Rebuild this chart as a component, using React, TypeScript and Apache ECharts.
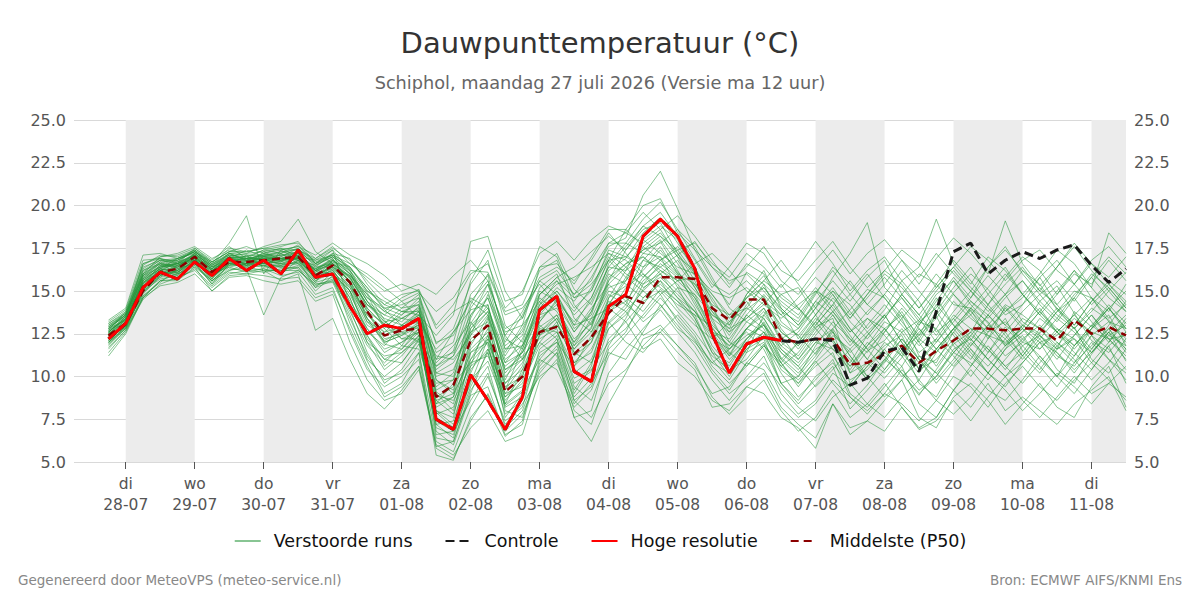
import React, { useEffect, useRef } from "react";
import * as echarts from "echarts";

// Forecast steps: hours after 27-07 00:00, every 6 hours (27-07 18:00 .. 11-08 12:00)
const stepHours: number[] = Array.from({ length: 60 }, (_, i) => 18 + 6 * i);

// Day ticks (midnight of each day, hours after 27-07 00:00 = 24 * (i + 1))
const tickDays = ["di", "wo", "do", "vr", "za", "zo", "ma", "di", "wo", "do", "vr", "za", "zo", "ma", "di"];
const tickDates = ["28-07", "29-07", "30-07", "31-07", "01-08", "02-08", "03-08", "04-08", "05-08", "06-08", "07-08", "08-08", "09-08", "10-08", "11-08"];

// High resolution run (runs until 06-08 12:00)
const hoogeResolutie = [
  12.2, 13.1, 15.2, 16.1, 15.7, 16.7, 15.9, 16.9, 16.2, 16.8,
  16.0, 17.4, 15.8, 16.0, 14.1, 12.5, 13.0, 12.8, 13.4, 7.5,
  6.9, 10.1, 8.6, 6.9, 8.8, 13.9, 14.7, 10.3, 9.7, 14.1,
  14.8, 18.2, 19.2, 18.2, 16.3, 12.5, 10.2, 11.9, 12.3, 12.1,
];

// Control run
const controle = [
  12.2, 13.1, 15.2, 16.1, 15.7, 16.7, 15.9, 16.9, 16.2, 16.8,
  16.0, 17.4, 15.8, 16.0, 14.1, 12.5, 13.0, 12.8, 13.4, 7.5,
  6.9, 10.1, 8.6, 6.9, 8.8, 13.9, 14.7, 10.3, 9.7, 14.1,
  14.8, 18.2, 19.2, 18.2, 16.3, 12.5, 10.2, 11.9, 12.3, 12.1,
  12.0, 12.2, 12.1, 9.5, 9.9, 11.5, 11.7, 10.3, 13.8, 17.3,
  17.8, 16.0, 16.8, 17.3, 16.9, 17.4, 17.7, 16.5, 15.5, 16.3,
];

// Ensemble median
const middelste = [
  12.4, 13.1, 15.0, 16.1, 16.3, 17.0, 16.1, 16.7, 16.7, 16.8,
  16.9, 17.0, 15.9, 16.5, 15.5, 13.8, 12.4, 12.7, 12.8, 8.8,
  9.5, 12.1, 13.0, 9.1, 10.0, 12.6, 12.9, 11.3, 12.3, 13.7,
  14.7, 14.3, 15.8, 15.8, 15.7, 14.0, 13.3, 14.5, 14.5, 12.2,
  12.0, 12.2, 12.2, 10.7, 10.8, 11.3, 11.8, 10.8, 11.5, 12.1,
  12.8, 12.8, 12.7, 12.8, 12.8, 12.1, 13.3, 12.5, 12.9, 12.4,
];

// Perturbed ensemble members (50)
const verstoordeRuns: number[][] = [
  [12.8, 13.6, 16.2, 16.6, 16.0, 17.2, 16.4, 17.0, 16.5, 17.3, 16.8, 17.1, 16.2, 16.9, 15.4, 13.2, 12.1, 12.6, 13.0, 9.1, 8.4, 11.8, 13.5, 9.6, 10.4, 12.9, 13.6, 11.2, 12.0, 14.6, 15.3, 16.2, 17.4, 16.1, 15.0, 13.8, 12.4, 13.9, 14.7, 12.8, 11.6, 12.9, 13.4, 10.2, 11.5, 12.1, 13.4, 11.2, 10.8, 12.6, 13.9, 12.2, 14.1, 13.0, 12.4, 11.6, 13.8, 12.9, 14.2, 13.1],
  [12.1, 13.0, 14.8, 15.9, 16.4, 16.8, 15.6, 16.5, 17.1, 16.4, 17.2, 16.6, 15.5, 16.8, 16.2, 14.9, 13.3, 12.2, 12.6, 7.2, 6.4, 9.8, 10.9, 8.3, 9.1, 13.2, 14.5, 12.6, 13.8, 16.2, 16.9, 18.4, 19.3, 17.8, 16.4, 14.1, 12.0, 11.4, 13.6, 14.8, 15.2, 13.6, 12.1, 11.0, 9.8, 10.9, 12.6, 13.3, 14.8, 15.6, 14.2, 13.1, 11.9, 12.8, 14.4, 15.3, 13.7, 12.1, 11.4, 12.6],
  [13.2, 13.9, 16.8, 16.9, 16.6, 17.5, 16.8, 17.6, 16.9, 17.4, 17.6, 17.9, 16.6, 17.4, 14.2, 12.4, 11.0, 10.8, 12.1, 10.6, 11.5, 14.8, 15.9, 12.2, 11.6, 14.0, 15.2, 14.4, 15.8, 17.6, 18.1, 20.6, 22.0, 19.8, 17.4, 15.6, 14.2, 16.1, 15.4, 13.2, 12.4, 11.3, 12.8, 13.9, 15.1, 14.6, 13.2, 12.0, 13.6, 14.9, 16.0, 15.1, 13.8, 14.6, 15.8, 14.2, 13.0, 14.4, 15.6, 14.8],
  [11.6, 12.7, 14.5, 15.4, 15.8, 16.2, 15.2, 16.0, 16.2, 16.1, 16.3, 16.4, 15.0, 15.9, 13.1, 10.9, 9.0, 9.6, 11.4, 5.4, 5.1, 7.6, 8.9, 6.5, 7.4, 11.0, 12.2, 9.4, 8.6, 11.2, 12.4, 13.6, 14.8, 13.2, 12.1, 10.4, 9.2, 10.8, 11.9, 9.6, 8.4, 9.5, 10.6, 8.1, 9.2, 10.4, 11.8, 9.6, 8.8, 10.5, 11.6, 10.2, 9.4, 10.8, 12.0, 10.4, 9.6, 11.3, 12.6, 10.9],
  [12.5, 13.3, 15.6, 16.3, 16.9, 17.4, 16.2, 16.9, 17.4, 17.0, 17.1, 17.3, 16.0, 16.4, 15.9, 14.4, 13.6, 13.2, 14.1, 11.0, 12.6, 13.9, 14.2, 10.4, 11.2, 12.2, 12.8, 9.6, 10.3, 13.1, 14.0, 15.6, 16.4, 17.1, 17.9, 16.4, 15.2, 16.6, 16.0, 14.6, 13.9, 15.2, 14.0, 12.6, 13.4, 12.8, 11.6, 12.4, 14.2, 13.0, 12.1, 13.6, 14.8, 16.2, 15.4, 13.9, 12.8, 14.0, 13.3, 12.2],
  [12.9, 13.5, 15.9, 16.7, 16.2, 17.1, 15.8, 16.6, 16.4, 16.9, 16.5, 17.0, 15.6, 16.3, 14.6, 12.0, 10.4, 11.2, 12.4, 6.8, 6.0, 8.9, 9.4, 6.6, 7.2, 10.8, 11.6, 8.8, 9.9, 12.8, 13.6, 15.1, 16.2, 15.4, 14.0, 11.8, 10.6, 12.2, 13.1, 11.1, 10.2, 11.4, 12.7, 9.6, 10.8, 9.9, 11.1, 12.6, 13.5, 11.8, 10.6, 12.2, 13.4, 11.5, 10.4, 11.8, 12.9, 11.0, 10.2, 11.6],
  [12.3, 13.2, 15.1, 15.8, 16.5, 16.9, 16.3, 17.2, 16.8, 16.6, 16.7, 17.4, 16.8, 17.1, 16.6, 16.0, 15.2, 14.4, 14.9, 13.8, 14.6, 16.2, 16.1, 13.8, 14.2, 16.4, 17.2, 15.1, 14.2, 16.4, 17.6, 18.8, 19.6, 18.2, 16.8, 15.2, 16.4, 17.8, 17.2, 15.6, 14.8, 16.2, 17.4, 16.0, 17.2, 18.0, 16.8, 15.4, 16.9, 18.1, 17.2, 16.0, 19.1, 16.6, 15.3, 16.4, 17.6, 16.2, 15.0, 16.1],
  [11.9, 12.9, 14.9, 16.0, 16.1, 16.6, 15.4, 16.2, 16.6, 16.5, 16.0, 16.8, 15.2, 16.1, 15.2, 13.6, 12.6, 12.9, 13.2, 8.0, 7.6, 12.2, 13.0, 9.2, 10.6, 13.6, 14.0, 12.2, 13.1, 15.0, 14.6, 13.8, 15.1, 14.2, 13.6, 12.9, 11.3, 12.8, 12.3, 10.6, 9.8, 10.9, 9.6, 8.4, 9.5, 11.0, 10.2, 8.9, 10.4, 11.9, 12.6, 11.4, 12.9, 11.8, 10.6, 9.4, 10.8, 12.4, 11.6, 10.4],
  [12.6, 13.4, 15.4, 16.5, 16.8, 17.3, 16.6, 17.8, 19.4, 16.0, 17.4, 16.8, 16.5, 17.0, 16.1, 14.0, 12.9, 13.6, 14.4, 9.8, 9.2, 13.1, 14.6, 11.6, 12.4, 15.2, 16.0, 13.4, 12.6, 14.2, 15.8, 17.2, 18.0, 16.6, 15.2, 13.4, 12.6, 14.2, 15.2, 13.9, 12.2, 13.6, 15.0, 14.2, 12.8, 13.9, 15.6, 14.4, 12.6, 13.4, 14.6, 15.9, 14.8, 13.2, 12.5, 13.8, 15.0, 14.6, 13.4, 14.2],
  [12.2, 13.0, 15.3, 16.2, 15.9, 16.9, 15.7, 16.8, 16.3, 13.6, 15.8, 16.2, 15.4, 15.6, 14.0, 11.4, 9.6, 10.4, 11.9, 7.9, 7.0, 10.2, 12.4, 8.6, 9.8, 12.0, 13.2, 10.8, 11.4, 13.9, 14.8, 16.8, 17.9, 16.2, 14.6, 12.6, 11.8, 13.2, 14.0, 12.0, 11.2, 12.6, 13.8, 12.4, 11.0, 12.6, 13.8, 12.2, 11.4, 12.8, 13.6, 12.4, 11.2, 12.0, 13.4, 12.6, 11.8, 13.0, 14.0, 12.8],
  [13.0, 13.7, 16.0, 17.0, 17.2, 17.6, 16.9, 17.4, 17.2, 17.6, 17.9, 19.2, 17.3, 16.6, 15.6, 13.8, 13.1, 14.0, 14.8, 11.9, 12.8, 15.4, 16.8, 13.0, 12.0, 14.8, 15.8, 16.4, 17.3, 18.2, 17.4, 18.6, 19.0, 17.2, 15.9, 14.6, 13.0, 14.8, 15.9, 14.2, 13.4, 14.9, 16.2, 14.8, 13.6, 14.8, 16.2, 15.0, 13.8, 15.2, 16.4, 14.8, 13.6, 14.2, 15.8, 16.8, 15.4, 14.2, 15.2, 14.0],
  [11.4, 12.6, 14.6, 15.6, 15.6, 16.4, 15.0, 15.9, 16.0, 16.2, 15.6, 16.0, 12.7, 13.4, 11.0, 9.0, 8.1, 9.2, 10.6, 6.2, 5.6, 8.2, 10.0, 7.4, 8.2, 11.6, 12.4, 9.9, 10.4, 12.0, 12.8, 14.2, 15.6, 14.6, 13.4, 11.6, 10.2, 11.6, 12.6, 10.4, 9.6, 10.6, 11.4, 9.0, 8.2, 9.4, 10.6, 8.4, 7.6, 9.2, 10.4, 9.2, 8.6, 9.8, 11.2, 10.0, 9.0, 10.4, 11.8, 9.6],
  [12.7, 13.8, 16.4, 16.8, 16.6, 17.1, 16.5, 17.1, 17.0, 16.8, 17.0, 17.5, 16.4, 17.2, 16.9, 15.4, 14.2, 13.8, 13.6, 12.4, 13.6, 17.9, 18.2, 15.0, 13.4, 15.6, 14.8, 12.8, 13.6, 16.6, 17.8, 19.2, 20.2, 18.6, 16.9, 15.4, 14.8, 15.6, 14.6, 12.6, 11.8, 13.2, 14.6, 13.4, 14.8, 16.2, 15.4, 14.0, 15.4, 16.8, 15.6, 14.2, 15.8, 17.0, 16.2, 14.8, 16.0, 15.4, 16.8, 15.6],
  [12.4, 13.1, 14.7, 15.5, 16.3, 16.6, 16.0, 16.4, 16.6, 16.7, 16.6, 16.6, 15.8, 16.2, 14.8, 12.8, 11.6, 12.0, 12.8, 8.6, 7.8, 11.0, 12.8, 8.0, 7.6, 10.4, 11.4, 8.0, 7.2, 10.2, 11.6, 12.8, 13.9, 12.6, 11.4, 9.8, 8.6, 10.0, 11.2, 9.0, 7.8, 8.6, 10.2, 9.4, 10.6, 12.0, 11.2, 9.8, 11.4, 12.6, 11.4, 10.2, 11.6, 12.4, 11.0, 10.0, 11.8, 13.0, 12.2, 11.0],
  [12.0, 12.8, 15.0, 16.4, 16.7, 17.0, 16.1, 17.0, 16.9, 17.1, 17.3, 17.2, 16.1, 16.7, 16.4, 15.2, 13.9, 13.0, 12.4, 9.4, 10.2, 13.4, 15.4, 12.8, 13.4, 16.2, 16.8, 14.2, 13.0, 15.4, 16.4, 17.4, 17.8, 18.6, 17.6, 15.8, 14.0, 13.2, 12.6, 11.4, 10.6, 12.0, 11.6, 10.4, 11.8, 13.2, 12.6, 11.0, 9.8, 11.0, 12.4, 13.6, 12.4, 11.2, 12.6, 13.8, 14.6, 13.2, 12.0, 13.4],
  [13.3, 14.0, 17.1, 17.2, 16.9, 17.3, 16.7, 17.3, 17.6, 17.2, 17.4, 17.6, 17.1, 17.8, 17.1, 16.6, 15.9, 15.0, 15.4, 14.8, 15.9, 16.8, 15.6, 12.4, 11.0, 12.6, 13.4, 11.6, 12.9, 15.8, 16.6, 17.0, 16.2, 15.6, 15.8, 14.8, 13.4, 14.6, 15.6, 16.8, 15.4, 14.0, 15.8, 17.2, 19.0, 15.2, 14.2, 13.0, 14.4, 15.8, 14.6, 16.4, 17.6, 16.0, 14.8, 15.6, 14.4, 15.8, 17.0, 16.0],
  [11.8, 12.8, 14.6, 15.6, 16.0, 16.4, 15.6, 16.4, 16.1, 16.3, 15.9, 16.1, 14.8, 15.2, 12.6, 10.4, 9.4, 10.0, 11.0, 5.9, 6.2, 9.0, 11.6, 9.0, 10.2, 12.4, 13.0, 11.8, 13.4, 14.0, 13.2, 11.6, 12.2, 10.8, 10.0, 8.6, 8.0, 9.4, 10.2, 8.2, 7.2, 6.4, 8.4, 7.0, 7.4, 8.6, 9.8, 7.6, 7.0, 8.8, 9.6, 8.6, 7.2, 8.4, 9.6, 8.2, 7.6, 9.4, 10.6, 8.2],
  [12.6, 13.5, 15.8, 16.6, 16.5, 16.9, 16.2, 17.0, 16.5, 17.0, 16.9, 16.9, 16.2, 16.0, 15.0, 13.0, 12.4, 12.8, 13.6, 10.2, 10.8, 12.6, 13.2, 9.8, 11.8, 14.4, 15.4, 15.8, 16.4, 17.2, 16.4, 15.2, 15.8, 14.8, 13.8, 12.4, 11.2, 12.8, 13.6, 12.4, 11.0, 12.2, 11.2, 9.8, 10.4, 11.6, 12.8, 11.4, 12.2, 13.6, 12.8, 11.6, 10.4, 11.8, 12.4, 11.2, 10.6, 12.0, 11.0, 9.8],
  [12.3, 13.0, 15.2, 16.0, 15.8, 16.7, 15.4, 16.6, 16.8, 16.6, 16.4, 16.8, 15.8, 16.5, 15.6, 13.4, 11.9, 11.6, 12.6, 7.6, 7.0, 11.4, 12.0, 7.6, 9.0, 12.6, 13.6, 12.0, 13.2, 15.2, 15.6, 17.6, 18.4, 17.2, 15.6, 13.2, 11.6, 12.4, 13.0, 11.8, 12.6, 14.0, 13.0, 11.8, 13.0, 14.2, 13.0, 11.8, 12.8, 14.4, 13.4, 12.6, 14.0, 12.8, 11.6, 12.6, 13.6, 12.4, 13.2, 12.0],
  [13.1, 13.7, 16.5, 17.1, 17.0, 17.4, 16.6, 17.2, 16.8, 17.2, 17.5, 17.0, 16.8, 17.4, 16.2, 14.6, 13.8, 14.6, 15.1, 12.8, 13.8, 14.4, 13.6, 10.8, 11.4, 13.8, 14.6, 13.0, 14.6, 16.8, 18.6, 17.6, 16.8, 17.4, 17.8, 16.6, 15.8, 17.2, 16.4, 15.2, 16.4, 17.9, 16.6, 15.0, 16.2, 17.0, 15.6, 16.4, 19.2, 16.6, 15.4, 17.0, 16.2, 14.8, 16.0, 17.4, 16.6, 15.2, 18.4, 17.2],
  [12.5, 13.2, 15.5, 16.2, 16.4, 17.0, 16.0, 16.8, 16.9, 16.9, 16.8, 17.1, 16.4, 16.6, 15.8, 14.2, 13.4, 13.0, 13.8, 10.8, 11.8, 13.2, 11.8, 8.2, 8.8, 11.4, 12.0, 8.6, 9.4, 12.2, 13.2, 14.4, 15.0, 13.8, 12.6, 11.2, 10.4, 11.0, 12.4, 10.8, 9.4, 10.8, 11.8, 10.6, 12.0, 11.2, 10.0, 10.8, 12.2, 11.2, 10.0, 11.4, 12.6, 11.2, 10.2, 11.6, 12.2, 10.8, 12.0, 13.2],
  [12.0, 13.1, 15.7, 16.3, 16.1, 16.8, 15.9, 16.5, 16.6, 16.5, 16.5, 16.7, 16.0, 16.3, 15.3, 13.8, 12.0, 12.4, 12.9, 8.2, 8.8, 12.8, 14.2, 10.0, 11.0, 14.8, 15.8, 14.8, 15.6, 17.8, 18.4, 19.6, 18.6, 17.0, 16.2, 14.8, 13.6, 14.0, 13.4, 11.8, 11.0, 12.4, 13.6, 12.0, 13.4, 12.4, 11.2, 13.0, 14.6, 13.0, 11.8, 13.0, 14.2, 13.6, 12.8, 14.0, 12.8, 11.6, 13.0, 14.4],
  [12.8, 13.3, 15.9, 16.4, 16.6, 17.2, 16.4, 16.9, 16.6, 17.1, 17.1, 17.2, 15.8, 16.8, 16.0, 14.8, 12.8, 11.8, 11.6, 8.4, 9.6, 10.8, 11.2, 8.8, 10.0, 13.4, 14.2, 12.6, 14.0, 15.4, 14.4, 13.2, 14.0, 15.2, 14.8, 13.6, 12.8, 13.4, 14.2, 13.4, 14.2, 15.0, 14.4, 12.8, 11.6, 10.4, 11.6, 13.2, 12.8, 11.4, 12.6, 14.2, 13.0, 12.2, 13.0, 12.0, 11.2, 12.8, 14.0, 12.8],
  [12.2, 12.9, 15.0, 15.9, 16.2, 16.7, 15.8, 16.6, 16.4, 16.5, 16.2, 16.5, 15.5, 15.8, 13.8, 11.8, 10.8, 11.8, 13.2, 9.0, 8.0, 11.6, 12.6, 8.8, 9.6, 11.8, 12.6, 10.2, 11.0, 13.6, 15.2, 16.0, 15.2, 14.4, 13.2, 11.0, 9.8, 11.4, 12.0, 10.2, 8.8, 9.8, 11.0, 8.8, 8.0, 9.0, 10.4, 9.2, 10.0, 11.6, 12.2, 11.0, 10.0, 10.8, 12.0, 11.4, 10.2, 11.6, 12.8, 11.4],
  [12.9, 13.6, 16.1, 16.8, 16.8, 17.3, 16.5, 17.5, 17.3, 17.5, 17.7, 17.8, 16.9, 17.5, 16.8, 15.6, 14.6, 14.0, 14.2, 11.4, 12.0, 15.6, 17.4, 14.4, 14.8, 17.6, 17.0, 14.6, 15.0, 17.0, 16.0, 15.4, 16.0, 16.8, 15.4, 13.8, 12.8, 14.8, 16.2, 14.0, 13.0, 14.4, 15.6, 14.4, 15.8, 16.8, 14.8, 13.6, 15.0, 16.2, 15.0, 13.8, 14.8, 15.6, 14.2, 13.2, 14.6, 16.0, 15.2, 14.0],
  [11.2, 12.5, 14.6, 15.3, 15.5, 16.0, 15.0, 15.8, 15.9, 15.6, 15.4, 15.6, 14.4, 14.8, 12.0, 9.8, 8.6, 9.0, 10.4, 6.0, 5.4, 7.0, 8.0, 6.2, 6.6, 9.8, 11.0, 7.6, 6.2, 8.4, 10.2, 12.2, 12.6, 11.4, 10.4, 8.2, 8.4, 9.4, 9.0, 7.6, 7.0, 5.8, 8.4, 6.6, 7.4, 6.8, 8.2, 7.0, 7.6, 9.2, 8.2, 9.6, 8.0, 8.8, 8.0, 7.2, 8.4, 9.2, 10.0, 8.0],
  [12.6, 13.4, 15.4, 16.2, 16.7, 17.1, 16.3, 16.8, 16.8, 16.9, 16.9, 17.0, 16.3, 16.7, 15.7, 14.2, 13.6, 14.4, 13.4, 11.2, 11.0, 12.4, 14.8, 12.4, 13.8, 15.8, 16.4, 15.6, 16.8, 18.4, 17.2, 16.0, 14.8, 15.6, 16.6, 17.2, 16.2, 15.0, 14.2, 15.4, 14.0, 13.0, 14.2, 15.6, 14.2, 13.4, 14.8, 16.0, 15.4, 14.2, 14.0, 15.2, 16.4, 14.8, 13.6, 14.8, 16.2, 14.6, 13.8, 15.4],
  [12.4, 13.2, 15.2, 16.1, 16.2, 16.9, 16.1, 16.7, 16.7, 16.8, 16.6, 16.9, 15.9, 16.4, 15.6, 13.9, 12.2, 12.5, 13.0, 8.8, 9.4, 12.0, 13.0, 9.4, 10.0, 12.8, 12.6, 10.6, 11.6, 13.8, 14.4, 15.8, 16.8, 15.9, 14.4, 12.4, 11.0, 12.0, 13.2, 11.4, 10.4, 11.6, 12.2, 10.2, 10.8, 11.8, 12.4, 10.4, 11.0, 12.2, 12.8, 12.4, 12.0, 12.8, 12.0, 12.4, 13.4, 12.6, 12.2, 12.4],
  [12.7, 13.3, 15.7, 16.5, 16.4, 17.2, 16.2, 16.8, 16.6, 17.0, 16.7, 17.2, 16.2, 16.8, 16.0, 14.4, 13.0, 12.2, 12.2, 9.6, 9.8, 14.0, 15.4, 11.8, 12.6, 15.0, 14.4, 11.4, 10.8, 12.8, 13.8, 15.0, 14.2, 12.8, 12.0, 10.8, 11.6, 12.8, 13.8, 12.2, 12.8, 14.4, 13.6, 12.2, 11.4, 12.8, 13.6, 12.0, 10.6, 12.0, 11.0, 12.6, 13.2, 12.0, 11.6, 12.8, 12.2, 11.4, 12.6, 13.6],
  [12.1, 13.0, 15.1, 16.2, 16.6, 16.9, 15.9, 16.7, 16.9, 16.6, 16.8, 16.9, 15.7, 16.4, 15.2, 13.2, 12.6, 13.4, 13.9, 8.9, 8.6, 10.6, 13.4, 10.8, 12.2, 14.6, 13.8, 12.0, 13.8, 16.0, 15.4, 14.6, 15.6, 14.0, 13.0, 12.2, 13.2, 14.4, 13.0, 11.0, 12.0, 13.4, 12.6, 11.4, 12.4, 13.6, 12.0, 10.8, 12.0, 13.4, 12.2, 11.0, 12.2, 13.4, 12.8, 11.6, 12.4, 13.6, 12.4, 11.8],
  [12.5, 13.4, 16.6, 16.9, 16.3, 17.1, 16.0, 17.0, 16.8, 17.1, 16.9, 16.8, 15.9, 16.0, 14.4, 12.8, 11.4, 12.0, 12.6, 6.6, 6.8, 10.4, 11.6, 9.2, 11.6, 14.2, 15.0, 13.6, 14.6, 16.8, 17.0, 16.4, 17.6, 16.0, 14.2, 12.6, 12.2, 13.6, 12.8, 10.8, 9.6, 11.0, 12.4, 11.6, 12.6, 11.4, 10.6, 12.2, 13.8, 12.4, 11.2, 10.2, 11.6, 13.0, 14.0, 12.6, 11.4, 10.4, 11.8, 12.6],
  [12.0, 12.9, 15.5, 16.1, 16.0, 16.6, 15.6, 16.5, 16.5, 16.4, 16.4, 16.3, 15.2, 15.6, 13.6, 11.0, 10.0, 10.8, 12.2, 7.0, 6.6, 9.4, 11.4, 7.8, 8.6, 11.2, 12.0, 10.6, 12.4, 14.4, 13.8, 12.4, 13.0, 11.8, 10.6, 9.0, 9.4, 10.8, 10.4, 8.6, 7.6, 8.4, 9.8, 8.8, 7.8, 9.0, 8.4, 7.4, 8.6, 10.0, 9.4, 8.2, 9.6, 10.6, 9.4, 8.6, 9.8, 10.8, 9.8, 8.6],
  [13.1, 13.8, 16.6, 17.0, 17.1, 17.5, 16.7, 17.3, 17.2, 17.3, 17.5, 17.4, 16.9, 17.6, 16.6, 15.8, 15.0, 15.4, 15.0, 13.0, 14.2, 16.0, 16.6, 14.0, 15.0, 17.2, 17.9, 16.8, 18.0, 18.8, 18.4, 17.8, 18.6, 19.4, 18.2, 16.8, 15.4, 16.4, 17.6, 16.2, 15.6, 16.8, 17.9, 16.4, 15.2, 16.2, 17.4, 16.6, 15.2, 16.4, 17.6, 16.8, 15.6, 16.8, 17.4, 16.2, 15.4, 16.8, 17.6, 16.4],
  [12.3, 13.2, 15.6, 16.4, 16.6, 16.8, 16.2, 16.9, 17.0, 16.8, 16.8, 16.9, 16.2, 16.6, 15.0, 12.6, 11.8, 13.0, 13.6, 8.0, 7.2, 9.6, 12.2, 10.6, 11.4, 13.0, 12.2, 9.0, 10.6, 14.6, 16.2, 18.0, 18.8, 18.0, 16.0, 13.4, 11.4, 10.6, 11.8, 10.6, 11.4, 12.8, 11.6, 10.8, 12.4, 13.6, 12.0, 10.4, 11.6, 12.8, 14.0, 13.2, 11.8, 12.6, 13.8, 12.6, 11.6, 12.8, 13.6, 11.8],
  [12.6, 13.5, 15.3, 16.0, 16.5, 17.0, 16.4, 16.8, 16.6, 16.7, 17.0, 16.8, 16.3, 16.9, 15.5, 13.4, 12.0, 12.4, 13.2, 9.8, 9.0, 11.0, 12.2, 8.4, 10.4, 12.0, 11.2, 7.6, 8.0, 11.6, 12.6, 14.6, 15.4, 14.4, 13.6, 11.4, 10.0, 11.6, 12.2, 9.6, 8.6, 10.0, 10.8, 9.4, 10.6, 11.6, 10.2, 9.0, 10.0, 11.4, 10.8, 9.8, 11.0, 12.2, 11.2, 10.0, 11.2, 12.4, 11.0, 10.2],
  [12.8, 13.6, 16.0, 16.7, 16.8, 17.3, 16.6, 17.1, 17.0, 17.4, 17.2, 17.7, 16.6, 17.0, 16.4, 15.0, 14.2, 14.8, 15.0, 10.2, 10.0, 12.6, 13.8, 11.2, 12.8, 14.8, 15.6, 14.0, 15.0, 17.4, 17.0, 18.0, 17.2, 16.4, 16.0, 15.0, 14.6, 15.2, 14.4, 13.6, 14.6, 15.8, 14.8, 13.4, 14.6, 15.8, 14.6, 13.2, 14.0, 15.6, 14.4, 13.4, 14.6, 15.6, 14.4, 13.4, 14.8, 15.8, 14.6, 13.8],
  [11.9, 12.8, 14.9, 15.8, 16.0, 16.5, 15.5, 16.3, 16.2, 16.3, 16.1, 16.4, 15.4, 15.5, 13.4, 11.2, 9.8, 10.2, 11.4, 6.4, 6.2, 9.2, 10.6, 7.0, 8.0, 10.6, 11.8, 9.2, 10.8, 13.2, 14.2, 16.4, 17.0, 15.2, 13.4, 11.4, 10.8, 12.2, 13.4, 11.6, 10.6, 9.4, 10.4, 11.6, 10.0, 8.8, 9.8, 11.2, 10.2, 9.2, 10.6, 11.8, 10.6, 9.6, 10.8, 12.0, 11.0, 9.8, 10.8, 12.2],
  [12.7, 13.5, 15.8, 16.4, 16.5, 17.0, 16.3, 17.1, 16.9, 16.8, 17.1, 17.0, 16.1, 16.6, 15.9, 14.8, 13.8, 13.4, 13.2, 11.6, 12.6, 14.4, 15.6, 12.6, 13.0, 14.4, 13.2, 10.8, 12.0, 14.2, 15.6, 16.8, 16.4, 15.6, 14.6, 13.0, 12.0, 13.6, 14.8, 13.6, 12.8, 14.0, 15.2, 13.8, 12.6, 13.6, 14.6, 13.4, 12.0, 13.2, 14.4, 13.6, 12.6, 13.8, 14.8, 13.6, 12.8, 13.8, 15.0, 13.8],
  [12.2, 13.1, 15.4, 16.2, 16.3, 16.9, 15.8, 16.7, 16.7, 16.9, 16.7, 17.0, 15.8, 16.2, 15.0, 13.4, 12.4, 13.0, 12.8, 7.8, 8.2, 10.8, 12.0, 9.6, 10.8, 13.2, 14.4, 13.2, 14.4, 16.4, 16.2, 17.0, 16.0, 14.6, 13.8, 12.8, 11.8, 12.6, 11.6, 9.6, 10.0, 11.8, 13.2, 12.2, 11.0, 10.2, 11.4, 12.8, 11.6, 10.6, 11.8, 13.0, 12.2, 11.0, 12.2, 13.4, 12.6, 11.4, 12.4, 13.0],
  [12.9, 13.7, 16.3, 16.9, 16.7, 17.4, 16.7, 17.3, 17.3, 17.5, 17.4, 17.6, 16.7, 17.1, 16.3, 15.2, 14.0, 13.6, 14.6, 12.0, 12.4, 14.6, 14.0, 11.4, 13.0, 16.4, 16.6, 15.4, 17.0, 18.6, 18.6, 20.0, 20.4, 18.4, 17.4, 16.4, 15.6, 16.0, 15.0, 13.8, 13.2, 14.8, 16.4, 15.4, 14.2, 15.4, 16.8, 15.8, 17.2, 16.0, 15.0, 16.4, 17.4, 16.2, 15.0, 16.4, 17.8, 16.6, 15.8, 17.0],
  [12.4, 13.3, 15.5, 16.3, 16.1, 16.8, 16.0, 16.7, 16.5, 16.8, 16.6, 17.0, 16.0, 16.4, 15.4, 13.6, 12.8, 13.8, 14.2, 9.2, 9.8, 12.4, 13.6, 10.4, 11.0, 12.6, 13.0, 11.4, 12.2, 13.2, 12.0, 11.4, 12.6, 13.6, 12.4, 10.6, 9.6, 10.6, 11.8, 10.8, 12.0, 13.2, 12.0, 10.6, 11.8, 12.8, 11.4, 10.2, 11.6, 12.8, 11.6, 10.6, 11.8, 13.0, 12.2, 11.0, 12.4, 13.6, 12.2, 11.2],
  [12.6, 13.4, 16.0, 16.6, 16.4, 17.2, 16.5, 17.0, 16.7, 17.0, 16.9, 17.3, 16.6, 17.1, 16.2, 14.4, 13.2, 12.6, 12.0, 8.6, 9.0, 13.6, 15.0, 11.6, 11.8, 13.8, 15.0, 13.8, 15.2, 17.2, 16.8, 15.8, 16.8, 17.6, 16.4, 14.4, 13.2, 14.0, 15.4, 14.4, 13.6, 15.0, 13.8, 12.6, 13.8, 14.8, 13.6, 12.4, 13.4, 14.8, 13.8, 12.8, 13.8, 14.8, 13.6, 12.6, 13.6, 14.6, 13.2, 12.8],
  [12.0, 12.9, 15.0, 15.7, 15.9, 16.5, 15.6, 16.2, 16.4, 16.2, 16.2, 16.2, 15.3, 15.7, 14.2, 12.0, 11.2, 11.4, 12.4, 7.4, 6.8, 8.6, 10.2, 7.2, 8.4, 10.0, 10.8, 8.4, 9.6, 11.4, 11.0, 12.6, 14.2, 13.0, 11.8, 10.2, 9.0, 9.8, 10.8, 9.4, 8.2, 7.4, 8.8, 9.6, 8.4, 7.6, 8.8, 9.8, 8.6, 7.8, 8.8, 10.2, 9.2, 8.0, 9.0, 10.2, 9.4, 8.4, 9.6, 10.6],
  [13.0, 13.6, 16.2, 16.8, 16.9, 17.2, 16.4, 17.2, 17.1, 17.0, 17.3, 17.4, 16.5, 17.0, 16.0, 14.6, 14.0, 14.2, 14.6, 10.6, 11.2, 14.2, 16.0, 13.6, 14.0, 15.4, 14.2, 11.8, 12.8, 15.6, 17.4, 18.8, 18.2, 17.0, 15.2, 13.6, 13.0, 14.6, 15.6, 14.8, 14.0, 12.8, 13.8, 14.8, 16.0, 14.6, 13.4, 14.6, 16.0, 14.8, 13.6, 14.8, 16.0, 14.8, 13.8, 15.0, 16.2, 15.2, 14.0, 15.0],
  [12.3, 13.1, 15.2, 15.9, 16.2, 16.8, 15.9, 16.6, 16.6, 16.6, 16.5, 16.7, 15.8, 16.0, 15.0, 12.4, 10.6, 11.4, 12.2, 7.2, 7.4, 10.6, 11.4, 8.4, 9.2, 11.0, 10.4, 8.2, 9.2, 11.8, 13.4, 15.4, 16.6, 15.8, 14.8, 12.6, 11.2, 12.2, 13.0, 11.6, 10.8, 12.0, 12.8, 11.2, 9.8, 10.8, 12.2, 11.0, 9.6, 10.8, 12.0, 11.0, 10.0, 11.2, 12.4, 11.4, 10.4, 11.4, 12.6, 11.6],
  [12.5, 13.3, 15.6, 16.3, 16.6, 17.0, 16.2, 16.9, 16.8, 17.2, 16.9, 17.1, 16.2, 16.6, 15.8, 14.0, 13.0, 12.8, 13.8, 10.4, 11.2, 13.0, 14.0, 11.0, 11.8, 14.2, 15.6, 14.6, 15.4, 16.8, 15.8, 15.0, 16.0, 15.0, 13.8, 12.2, 11.6, 12.8, 14.0, 12.6, 11.8, 13.0, 14.2, 12.8, 11.6, 12.6, 14.0, 12.8, 11.6, 12.8, 14.0, 12.8, 11.8, 12.6, 13.8, 12.8, 11.8, 12.8, 14.0, 12.6],
  [11.7, 12.7, 14.7, 15.6, 15.7, 16.3, 15.3, 16.1, 16.0, 15.9, 15.7, 15.8, 14.6, 15.0, 12.8, 10.6, 8.8, 9.4, 10.6, 5.8, 5.2, 7.4, 9.0, 6.8, 7.8, 10.2, 11.4, 8.6, 7.6, 9.6, 10.4, 11.8, 12.8, 11.8, 10.8, 8.8, 7.8, 8.8, 9.8, 8.0, 6.8, 7.6, 9.2, 7.6, 8.4, 9.6, 8.2, 6.9, 7.4, 8.6, 7.4, 8.8, 10.0, 8.6, 7.6, 8.8, 10.0, 9.0, 9.6, 8.8],
  [12.8, 13.6, 15.9, 16.6, 16.9, 17.3, 16.5, 17.2, 17.1, 17.1, 17.2, 17.5, 16.6, 17.2, 16.4, 15.0, 14.4, 13.8, 13.8, 11.0, 11.4, 13.6, 14.6, 12.0, 13.6, 15.6, 16.2, 14.8, 16.2, 17.8, 17.8, 17.2, 17.0, 16.0, 15.4, 14.2, 13.6, 14.6, 15.2, 14.0, 13.0, 14.2, 15.0, 13.6, 14.8, 16.0, 15.2, 14.0, 15.2, 16.4, 15.2, 14.2, 15.4, 16.4, 15.0, 14.2, 15.4, 16.6, 15.4, 14.4],
  [12.1, 13.0, 15.3, 16.0, 16.1, 16.7, 15.7, 16.6, 16.5, 16.6, 16.4, 16.6, 15.6, 16.1, 14.6, 12.2, 11.0, 11.6, 12.8, 8.4, 8.8, 11.4, 12.4, 9.0, 9.4, 12.4, 13.4, 11.6, 12.6, 14.8, 14.2, 13.4, 14.6, 13.4, 12.2, 10.8, 10.2, 11.8, 12.6, 11.0, 10.0, 11.2, 12.6, 11.2, 10.0, 11.0, 12.2, 11.0, 10.2, 11.4, 12.4, 11.6, 10.6, 11.4, 12.8, 11.8, 10.8, 11.8, 12.8, 11.6],
  [12.6, 13.4, 15.7, 16.5, 16.6, 17.1, 16.3, 17.0, 16.9, 17.0, 16.8, 17.2, 16.3, 16.8, 15.8, 14.2, 13.2, 13.4, 14.0, 10.0, 10.4, 12.8, 13.8, 10.2, 11.4, 13.6, 14.8, 13.0, 13.4, 15.6, 16.6, 17.4, 18.2, 17.4, 16.0, 14.0, 12.6, 13.4, 14.4, 13.0, 12.4, 13.6, 14.8, 13.2, 12.2, 13.4, 14.8, 13.6, 12.4, 13.8, 15.0, 14.0, 13.0, 14.2, 15.2, 14.0, 13.0, 14.4, 15.4, 14.2],
];

const toPoints = (values: number[]) => values.map((v, i) => [stepHours[i], v]);

// Alternate days are shaded (di, do, za, ma, wo, vr, zo, di)
const shadedBands = tickDays
  .map((_, i) => i)
  .filter((i) => i % 2 === 0)
  .map((i) => [{ xAxis: 24 * (i + 1) }, { xAxis: Math.min(24 * (i + 2), 372) }]);

const tickHours = tickDays.map((_, i) => 24 * (i + 1));

const FONT = "DejaVu Sans";
const ENS_COLOR = "rgba(38, 150, 58, 0.55)";

function buildOption(): echarts.EChartsOption {
  const ensembleSeries = verstoordeRuns.map((run) => ({
    name: "Verstoorde runs",
    type: "line" as const,
    data: toPoints(run),
    symbol: "none",
    silent: true,
    z: 2,
    lineStyle: { width: 1, color: ENS_COLOR },
    itemStyle: { color: ENS_COLOR },
  }));

  return {
    animation: false,
    backgroundColor: "#ffffff",
    textStyle: { fontFamily: FONT },
    title: {
      text: "Dauwpunttemperatuur (°C)",
      subtext: "Schiphol, maandag 27 juli 2026 (Versie ma 12 uur)",
      left: "center",
      top: 23,
      itemGap: 17,
      textStyle: { fontFamily: FONT, fontSize: 29, fontWeight: "normal", color: "#333333" },
      subtextStyle: { fontFamily: FONT, fontSize: 17.7, color: "#666666" },
    },
    grid: { left: 74, right: 74, top: 120, bottom: 138 },
    legend: {
      data: ["Verstoorde runs", "Controle", "Hoge resolutie", "Middelste (P50)"],
      left: "center",
      top: 527,
      itemWidth: 26,
      itemHeight: 14,
      itemGap: 32,
      itemStyle: { opacity: 0 },
      textStyle: { fontFamily: FONT, fontSize: 17.5, color: "#111111", padding: [0, 0, 0, 8] },
    },
    xAxis: {
      type: "value",
      min: 6,
      max: 372,
      splitLine: { show: false },
      axisLine: { show: false },
      axisTick: {
        show: true,
        customValues: tickHours,
        length: 7,
        lineStyle: { color: "#555555", width: 1 },
      },
      axisLabel: {
        show: true,
        customValues: tickHours,
        margin: 11,
        fontFamily: FONT,
        fontSize: 15.5,
        lineHeight: 21,
        color: "#555555",
        formatter: (v: number) => {
          const i = Math.round(v / 24) - 1;
          return `${tickDays[i]}\n${tickDates[i]}`;
        },
      },
    },
    yAxis: [
      {
        type: "value",
        min: 5,
        max: 25,
        interval: 2.5,
        position: "left",
        axisLine: { show: false },
        axisTick: { show: false },
        splitLine: { show: true, lineStyle: { color: "#d9d9d9", width: 1 } },
        axisLabel: {
          fontFamily: FONT,
          fontSize: 16,
          color: "#555555",
          margin: 8,
          formatter: (v: number) => v.toFixed(1),
        },
      },
      {
        type: "value",
        min: 5,
        max: 25,
        interval: 2.5,
        position: "right",
        axisLine: { show: false },
        axisTick: { show: false },
        splitLine: { show: false },
        axisLabel: {
          fontFamily: FONT,
          fontSize: 16,
          color: "#555555",
          margin: 8,
          formatter: (v: number) => v.toFixed(1),
        },
      },
    ],
    series: [
      {
        name: "dagen",
        type: "line",
        data: [[6, 5]],
        symbol: "none",
        silent: true,
        z: -1,
        lineStyle: { opacity: 0 },
        markArea: {
          silent: true,
          itemStyle: { color: "#ececec" },
          data: shadedBands as any,
        },
      },
      ...ensembleSeries,
      {
        name: "Middelste (P50)",
        type: "line",
        data: toPoints(middelste),
        symbol: "none",
        silent: true,
        z: 3,
        lineStyle: { width: 2.5, color: "#8b0000", type: [8, 5] },
        itemStyle: { color: "#8b0000" },
      },
      {
        name: "Controle",
        type: "line",
        data: toPoints(controle),
        symbol: "none",
        silent: true,
        z: 4,
        lineStyle: { width: 3, color: "#1a1a1a", type: [9, 5] },
        itemStyle: { color: "#1a1a1a" },
      },
      {
        name: "Hoge resolutie",
        type: "line",
        data: toPoints(hoogeResolutie),
        symbol: "none",
        silent: true,
        z: 5,
        lineStyle: { width: 3, color: "#ff0000" },
        itemStyle: { color: "#ff0000" },
      },
    ],
    graphic: [
      {
        type: "text",
        left: 18,
        top: 573,
        style: {
          text: "Gegenereerd door MeteoVPS (meteo-service.nl)",
          fontFamily: FONT,
          fontSize: 13.5,
          fill: "#888888",
        },
      },
      {
        type: "text",
        right: 18,
        top: 573,
        style: {
          text: "Bron: ECMWF AIFS/KNMI Ens",
          fontFamily: FONT,
          fontSize: 13.5,
          fill: "#888888",
        },
      },
    ],
  } as echarts.EChartsOption;
}

export default function App() {
  const ref = useRef<HTMLDivElement>(null);

  useEffect(() => {
    if (!ref.current) return;
    const chart = echarts.init(ref.current, null, { renderer: "svg" });
    chart.setOption(buildOption());
    return () => chart.dispose();
  }, []);

  return (
    <div
      ref={ref}
      style={{ position: "fixed", left: 0, top: 0, width: 1200, height: 600, background: "#fff" }}
    />
  );
}
